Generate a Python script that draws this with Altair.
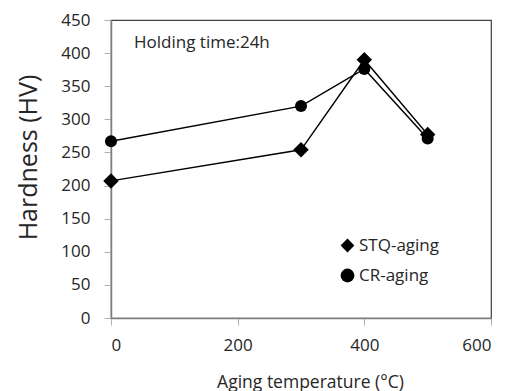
import altair as alt
import pandas as pd

temps = [0, 300, 400, 500]
stq = [207, 254, 390, 277]
cr = [267, 320, 376, 271]
series_names = ["STQ-aging", "CR-aging"]
x_ticks = [0, 200, 400, 600]
y_ticks = [0, 50, 100, 150, 200, 250, 300, 350, 400, 450]

rows = []
for t, v in zip(temps, stq):
    rows.append({"temp": t, "hv": v, "series": series_names[0]})
for t, v in zip(temps, cr):
    rows.append({"temp": t, "hv": v, "series": series_names[1]})
df = pd.DataFrame(rows)

FONT = "Open Sans"
TXT = "#262626"

x = alt.X("temp:Q", scale=alt.Scale(domain=[0, 600], nice=False),
          axis=alt.Axis(values=x_ticks, title="Aging temperature (\u00b0C)",
                        titleFontSize=17.5, titleX=199, titleY=69, titleBaseline="alphabetic",
                        labelPadding=12, labelOverlap=False))
y = alt.Y("hv:Q", scale=alt.Scale(domain=[0, 450], nice=False),
          axis=alt.Axis(values=y_ticks, title="Hardness (HV)",
                        titleFontSize=25, titleX=-83, titleY=137, titleBaseline="middle",
                        labelPadding=14, labelOverlap=False))

shape_scale = alt.Scale(domain=series_names, range=["diamond", "circle"])
legend = alt.Legend(title=None, orient="none", legendX=228, legendY=217, padding=0,
                    labelFontSize=17, labelFont=FONT, labelColor=TXT,
                    symbolSize=190, symbolFillColor="black", symbolStrokeColor="black",
                    symbolStrokeWidth=0, rowPadding=12, labelOffset=3)

lines = alt.Chart(df).mark_line(color="black", strokeWidth=1.4).encode(
    x=x, y=y, detail="series:N")

base_pts = alt.Chart(df).mark_point(filled=True, opacity=1, color="black")
diamonds = base_pts.transform_filter(alt.datum.series == series_names[0]).encode(
    x=x, y=y,
    shape=alt.Shape("series:N", scale=shape_scale, legend=legend),
    size=alt.value(240))
circles = base_pts.transform_filter(alt.datum.series == series_names[1]).encode(
    x=x, y=y,
    shape=alt.Shape("series:N", scale=shape_scale, legend=legend),
    size=alt.value(145))

note = alt.Chart(pd.DataFrame({"t": ["Holding time:24h"]})).mark_text(
    align="left", baseline="middle", fontSize=17, font=FONT, color=TXT
).encode(text="t:N", x=alt.value(23), y=alt.value(23))

chart = (lines + diamonds + circles + note).properties(
    width=380, height=298,
    autosize=alt.AutoSizeParams(type="none"),
    padding={"left": 111, "top": 20, "right": 17, "bottom": 73},
).configure_view(stroke="#404040", strokeWidth=1.2).configure_axis(
    grid=False, labelFont=FONT, titleFont=FONT, labelFontSize=17,
    labelColor=TXT, titleColor=TXT, titleFontWeight="normal",
    domainColor="#7f7f7f", domainWidth=1.5, tickColor="#b0b0b0", tickSize=7,
)

chart.save("out.html", embed_options={"renderer": "svg", "actions": False})
